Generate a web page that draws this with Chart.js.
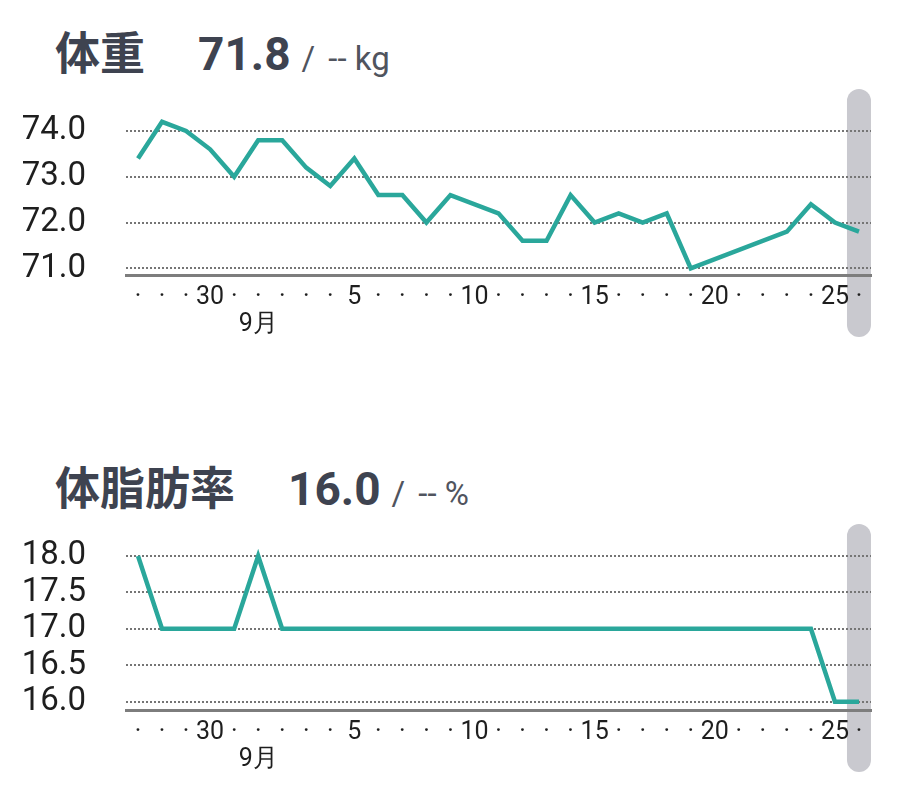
<!DOCTYPE html>
<html>
<head>
<meta charset="utf-8">
<script src="https://cdn.jsdelivr.net/npm/chart.js@4.4.1/dist/chart.umd.min.js"></script>
<style>
  html, body { margin: 0; padding: 0; background: #ffffff; width: 911px; height: 801px; overflow: hidden; }
  .hdr { position: absolute; left: 55px; display: flex; align-items: baseline; white-space: pre; line-height: 1; }
  .hdr .t { font-family: "Noto Sans CJK JP", sans-serif; font-weight: 700; font-size: 45px; color: #3e4350; }
  .hdr .v { font-family: Roboto, sans-serif; font-weight: 700; font-size: 46px; color: #3e4350; margin-left: 53px; }
  .hdr .s { font-family: Roboto, sans-serif; font-weight: 400; font-size: 33px; color: #50545e; margin-left: 11px; margin-right: 5px; }
  .hdr .u { font-family: Roboto, sans-serif; font-weight: 400; font-size: 33px; color: #50545e; }
  .wrap { position: absolute; left: 0; width: 911px; height: 280px; }
</style>
</head>
<body>
<div class="hdr" id="h1" style="top:28px"><span class="t">体重</span><span class="v">71.8</span><span class="s">/</span><span class="u"> -- kg</span></div>
<div class="wrap" style="top:80px"><canvas id="c1" width="911" height="280"></canvas></div>
<div class="hdr" id="h2" style="top:463px"><span class="t">体脂肪率</span><span class="v">16.0</span><span class="s">/</span><span class="u"> -- %</span></div>
<div class="wrap" style="top:515px"><canvas id="c2" width="911" height="280"></canvas></div>
<script>
// Dates: Aug 27 – Sep 26
const dates = ['8/27','8/28','8/29','8/30','8/31','9/1','9/2','9/3','9/4','9/5','9/6','9/7','9/8','9/9','9/10','9/11','9/12','9/13','9/14','9/15','9/16','9/17','9/18','9/19','9/20','9/21','9/22','9/23','9/24','9/25','9/26'];
const xTickLabels = ['·','·','·','30','·',['·','9月'],'·','·','·','5','·','·','·','·','10','·','·','·','·','15','·','·','·','·','20','·','·','·','·','25','·'];
const weight = [73.4,74.2,74.0,73.6,73.0,73.8,73.8,73.2,72.8,73.4,72.6,72.6,72.0,72.6,null,72.2,71.6,71.6,72.6,72.0,72.2,72.0,72.2,71.0,null,null,null,71.8,72.4,72.0,71.8];
const bodyFat = [18.0,17.0,17.0,17.0,17.0,18.0,17.0,17.0,17.0,17.0,17.0,17.0,17.0,17.0,null,17.0,17.0,17.0,17.0,17.0,17.0,17.0,17.0,17.0,null,null,null,17.0,17.0,16.0,16.0];
const weightTicks = [71.0,72.0,73.0,74.0];
const bodyFatTicks = [16.0,16.5,17.0,17.5,18.0];

const LINE = '#2aa79b';

const highlightPlugin = {
  id: 'highlight',
  beforeDraw(chart) {
    const {ctx, chartArea, scales} = chart;
    const xs = scales.x;
    const cx = xs.getPixelForValue(chart.data.labels.length - 1);
    const w = 24;
    const top = chartArea.top - 15;
    const bottom = chartArea.bottom + 62;
    ctx.save();
    ctx.fillStyle = '#c9c9cf';
    ctx.beginPath();
    ctx.roundRect(cx - w / 2, top, w, bottom - top, w / 2);
    ctx.fill();
    ctx.restore();
  }
};

function makeChart(id, data, ticks, min, max) {
  return new Chart(document.getElementById(id), {
    type: 'line',
    data: {
      labels: dates,
      datasets: [{
        data: data,
        borderColor: LINE,
        borderWidth: 4.5,
        pointRadius: 0,
        pointHoverRadius: 0,
        tension: 0,
        spanGaps: true,
        fill: false
      }]
    },
    options: {
      responsive: false,
      animation: false,
      events: [],
      layout: { padding: { top: 24, bottom: 25, left: 0, right: 40 } },
      plugins: { legend: { display: false }, tooltip: { enabled: false } },
      scales: {
        x: {
          offset: true,
          grid: { display: false, drawTicks: false },
          border: { display: true, color: '#7d7d7d', width: 3 },
          afterFit(s) { s.height = 60; s.paddingLeft = 0; s.paddingRight = 0; },
          ticks: {
            autoSkip: false,
            maxRotation: 0,
            minRotation: 0,
            padding: 10,
            color: '#1e1e1e',
            font: { family: 'Roboto', size: 25, lineHeight: 1.05 },
            callback: (v, i) => xTickLabels[i]
          }
        },
        y: {
          min: min,
          max: max,
          afterFit(s) { s.width = 126; s.paddingTop = 0; s.paddingBottom = 0; },
          afterBuildTicks(s) { s.ticks = ticks.map(v => ({ value: v })); },
          grid: { color: '#757575', lineWidth: 2, drawTicks: false },
          border: { display: false, dash: [2, 2] },
          ticks: {
            autoSkip: false,
            padding: 40,
            color: '#1e1e1e',
            font: { family: 'Roboto', size: 33 },
            callback: v => Number(v).toFixed(1)
          }
        }
      }
    },
    plugins: [highlightPlugin]
  });
}

makeChart('c1', weight, weightTicks, 70.854, 74.59);
makeChart('c2', bodyFat, bodyFatTicks, 15.886, 18.233);
</script>
</body>
</html>
